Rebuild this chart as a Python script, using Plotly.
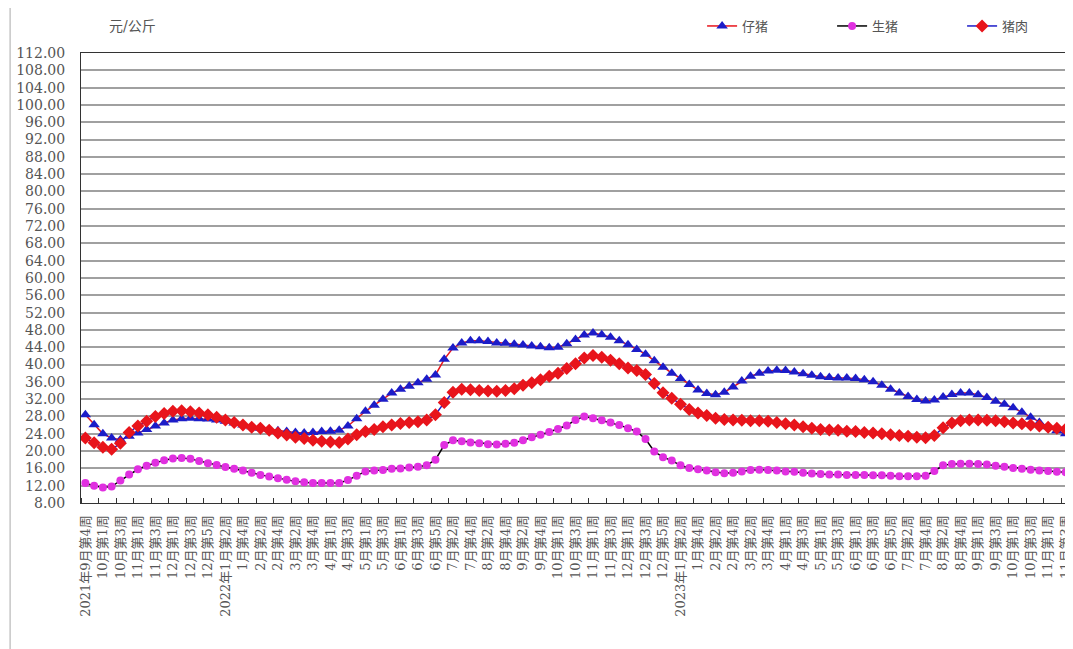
import plotly.graph_objects as go

# weeks per month: (year, month, first week, last week)
month_weeks = [
    (2021, 9, 4, 5), (2021, 10, 1, 4), (2021, 11, 1, 4), (2021, 12, 1, 5),
    (2022, 1, 1, 4), (2022, 2, 1, 4), (2022, 3, 1, 5), (2022, 4, 1, 4),
    (2022, 5, 1, 4), (2022, 6, 1, 5), (2022, 7, 1, 4), (2022, 8, 1, 4),
    (2022, 9, 1, 5), (2022, 10, 1, 4), (2022, 11, 1, 4), (2022, 12, 1, 5),
    (2023, 1, 1, 4), (2023, 2, 1, 4), (2023, 3, 1, 5), (2023, 4, 1, 4),
    (2023, 5, 1, 4), (2023, 6, 1, 5), (2023, 7, 1, 4), (2023, 8, 1, 5),
    (2023, 9, 1, 4), (2023, 10, 1, 4), (2023, 11, 1, 3),
]

piglet = [28.4, 26.1, 24.0, 23.0, 22.6, 23.4, 24.2, 25.0, 25.8, 26.5,
          27.2, 27.5, 27.6, 27.5, 27.4, 27.2, 26.9, 26.5, 26.0, 25.6,
          25.3, 25.0, 24.7, 24.5, 24.3, 24.2, 24.3, 24.5, 24.6, 24.8,
          25.8, 27.5, 29.2, 30.6, 32.0, 33.4, 34.3, 35.0, 35.8, 36.6,
          37.6, 41.2, 43.8, 45.0, 45.5, 45.5, 45.3, 45.0, 44.9, 44.7,
          44.5, 44.3, 44.1, 43.9, 44.0, 44.8, 45.8, 46.8, 47.3, 46.9,
          46.3, 45.5, 44.6, 43.5, 42.4, 40.9, 39.4, 38.0, 36.8, 35.4,
          34.1, 33.3, 33.0, 33.6, 34.8, 36.2, 37.3, 38.0, 38.5, 38.7,
          38.6, 38.3, 37.9, 37.5, 37.2, 37.0, 36.9, 36.9, 36.8, 36.5,
          36.0, 35.2, 34.3, 33.4, 32.6, 31.9, 31.6, 31.8, 32.5, 33.1,
          33.4, 33.4, 33.0, 32.4, 31.5, 30.8, 30.0, 29.0, 27.8, 26.6,
          25.6, 24.7, 24.0]

hog = [12.6, 12.0, 11.6, 11.8, 13.2, 14.6, 15.8, 16.6, 17.3, 17.9,
       18.3, 18.4, 18.2, 17.7, 17.2, 16.8, 16.3, 15.9, 15.5, 15.0,
       14.5, 14.1, 13.7, 13.4, 13.0, 12.8, 12.6, 12.6, 12.6, 12.6,
       13.3, 14.3, 15.3, 15.5, 15.6, 15.9, 16.0, 16.2, 16.4, 16.7,
       18.0, 21.4, 22.5, 22.3, 22.0, 21.8, 21.6, 21.5, 21.7, 21.9,
       22.5, 23.2, 23.8, 24.4, 25.1, 25.9, 27.2, 28.0, 27.6, 27.1,
       26.6, 26.0, 25.3, 24.5, 22.8, 19.9, 18.6, 17.8, 16.7, 16.1,
       15.8, 15.5, 15.1, 14.9, 15.0, 15.3, 15.6, 15.7, 15.6, 15.5,
       15.3, 15.2, 15.0, 14.8, 14.7, 14.6, 14.6, 14.5, 14.5, 14.5,
       14.4, 14.4, 14.3, 14.2, 14.2, 14.2, 14.3, 15.4, 16.7, 17.0,
       17.1, 17.1, 17.0, 16.9, 16.6, 16.4, 16.1, 15.9, 15.7, 15.5,
       15.4, 15.2, 15.1]

pork = [23.0, 21.9, 20.9, 20.4, 21.8, 24.3, 25.8, 26.9, 28.0, 28.7,
        29.2, 29.3, 29.1, 28.8, 28.4, 27.8, 27.2, 26.6, 26.0, 25.5,
        25.3, 24.8, 24.2, 23.7, 23.2, 22.9, 22.5, 22.3, 22.1, 22.0,
        22.8, 23.8, 24.5, 25.0, 25.6, 26.0, 26.4, 26.6, 26.8, 27.2,
        28.4, 31.2, 33.6, 34.3, 34.2, 34.0, 33.9, 33.8, 34.0, 34.4,
        35.2, 35.8, 36.5, 37.3, 38.0, 39.1, 40.2, 41.5, 42.1, 41.7,
        41.0, 40.2, 39.2, 38.6, 37.7, 35.6, 33.5, 32.2, 30.8, 29.6,
        28.8, 28.2, 27.6, 27.3, 27.2, 27.1, 27.0, 27.0, 26.9, 26.6,
        26.3, 26.0, 25.6, 25.3, 25.0, 24.9, 24.8, 24.6, 24.5, 24.3,
        24.2, 24.0, 23.8, 23.6, 23.4, 23.2, 23.1, 23.6, 25.4, 26.5,
        27.0, 27.2, 27.2, 27.1, 27.0, 26.8, 26.5, 26.3, 26.0, 25.8,
        25.5, 25.3, 25.1]

# build week sequence
weeks = []
for (yr, mo, w0, w1) in month_weeks:
    for w in range(w0, w1 + 1):
        weeks.append((yr, mo, w))
x_idx = list(range(len(weeks)))

tickvals, ticktext = [], []
seen_years = set()
for i in range(0, len(weeks), 2):
    yr, mo, w = weeks[i]
    lab = f"{mo}月第{w}周"
    if yr not in seen_years:
        lab = f"{yr}年" + lab
        seen_years.add(yr)
    tickvals.append(i)
    ticktext.append(lab)

FONT = "DejaVu Serif, Liberation Serif, Noto Sans CJK SC"

fig = go.Figure()
fig.add_trace(go.Scatter(
    x=x_idx, y=piglet, name="仔猪", mode="lines+markers",
    line=dict(color="#e8141b", width=1.5),
    marker=dict(symbol="triangle-up", size=10, color="#1c1cc8"),
))
fig.add_trace(go.Scatter(
    x=x_idx, y=hog, name="生猪", mode="lines+markers",
    line=dict(color="#000000", width=1.5),
    marker=dict(symbol="circle", size=8, color="#e030e0"),
))
fig.add_trace(go.Scatter(
    x=x_idx, y=pork, name="猪肉", mode="lines+markers",
    line=dict(color="#1c1cc8", width=1.5),
    marker=dict(symbol="diamond", size=10, color="#e8141b"),
))

fig.update_layout(
    width=1073, height=649,
    margin=dict(l=73, r=11, t=45, b=154, autoexpand=False),
    paper_bgcolor="white", plot_bgcolor="white",
    font=dict(family=FONT, size=13, color="#555"),
    showlegend=True,
    legend=dict(orientation="h", x=0.628, y=1.06, xanchor="left", yanchor="middle",
                entrywidth=85, entrywidthmode="pixels", bgcolor="rgba(0,0,0,0)",
                font=dict(size=13, color="#555"), itemwidth=30),
    annotations=[dict(text="元/公斤", xref="paper", yref="paper", x=0.026, y=1.06,
                      xanchor="left", yanchor="middle", showarrow=False,
                      font=dict(size=14, color="#555"))],
    shapes=[dict(type="line", xref="paper", yref="paper", x0=-0.0717, x1=-0.0717,
                 y0=-0.35, y1=1.1, line=dict(color="#aaa", width=1))],
)

fig.update_xaxes(
    range=[-0.5, len(weeks) - 0.5], tickmode="array", tickvals=tickvals, ticktext=ticktext,
    tickangle=-90, tickfont=dict(size=13, color="#555"), ticks="", showgrid=False,
    showline=True, linecolor="#333", linewidth=1, mirror=True, zeroline=False,
    ticklabelstandoff=6, ticklabeloverflow="allow",
    minor=dict(tickmode="linear", tick0=1.5, dtick=2, ticks="inside", ticklen=5,
               tickcolor="#333", showgrid=False),
)
fig.update_yaxes(
    range=[8, 112], tickmode="linear", tick0=8, dtick=4, tickformat=".2f",
    tickfont=dict(size=14, color="#555"), showgrid=True, gridcolor="#a0a0a0", gridwidth=1.5,
    showline=True, linecolor="#333", linewidth=1, mirror=True, zeroline=False,
    ticks="", ticklabelstandoff=12,
)

fig.write_html("out.html")
